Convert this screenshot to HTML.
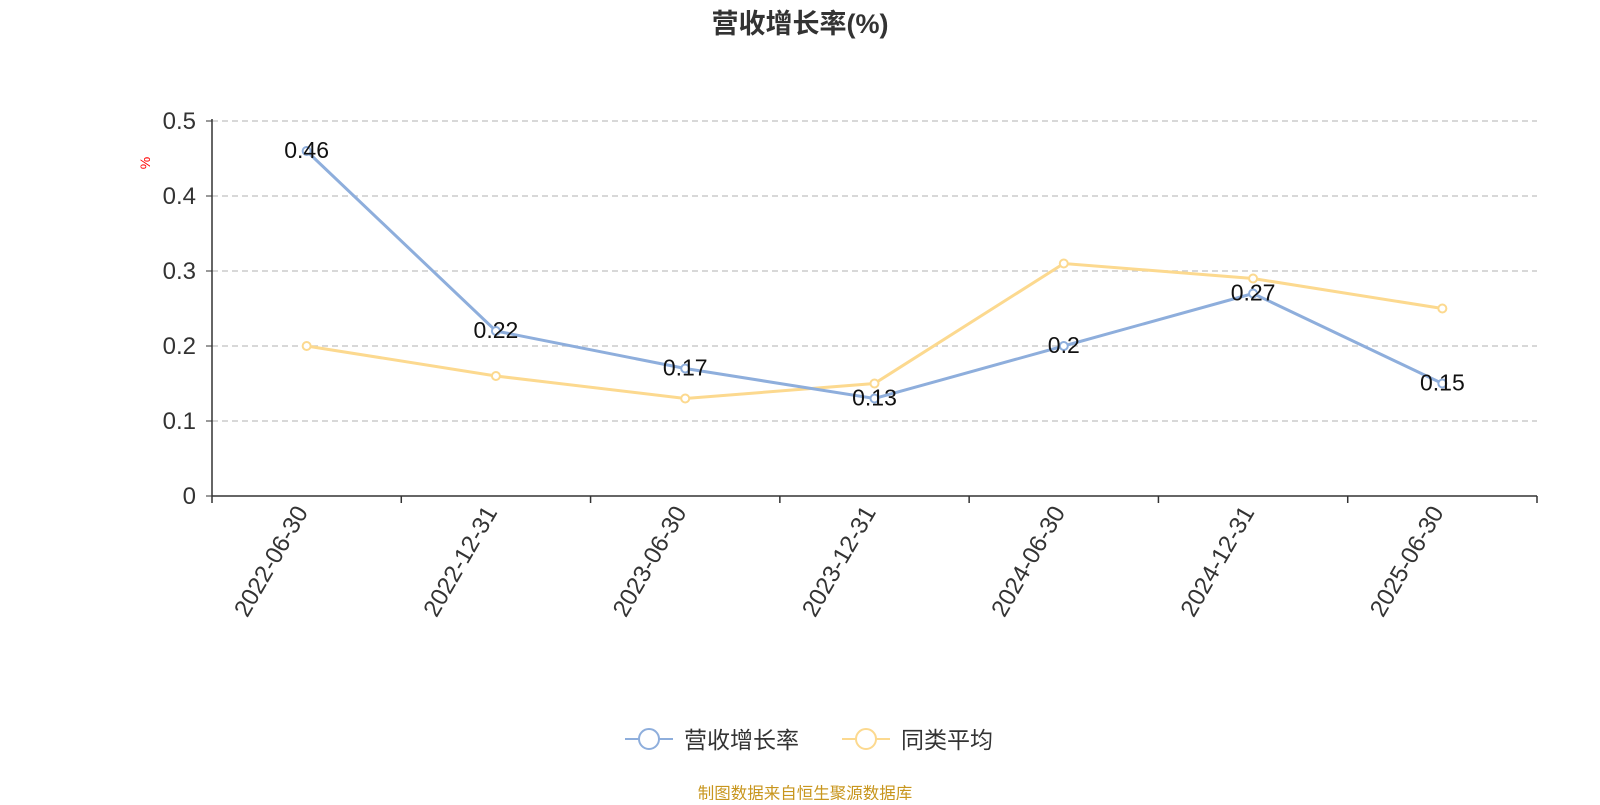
<!DOCTYPE html>
<html><head><meta charset="utf-8"><style>
body{margin:0;background:#fff;width:1600px;height:800px;overflow:hidden}
svg{font-family:"Liberation Sans","Noto Sans CJK SC",sans-serif}
</style></head><body>
<svg id="chart" width="1600" height="800">
<text x="800" y="33" text-anchor="middle" font-size="27" font-weight="bold" fill="#333">营收增长率(%)</text>
<text x="150" y="163" font-size="14" fill="red" transform="rotate(-90 150 163)" text-anchor="middle">%</text>
<g id="grid"></g><g id="axes"></g><g id="series"></g>
<g>
<g>
<line x1="625" y1="739" x2="673" y2="739" stroke="#8eaedc" stroke-width="2"/><circle cx="649" cy="739" r="10" fill="#fff" stroke="#8eaedc" stroke-width="2"/>
<text x="684" y="748" font-size="23" fill="#333">营收增长率</text></g>
<g>
<line x1="842" y1="739" x2="890" y2="739" stroke="#fcd98f" stroke-width="2"/><circle cx="866" cy="739" r="10" fill="#fff" stroke="#fcd98f" stroke-width="2"/>
<text x="901" y="748" font-size="23" fill="#333">同类平均</text></g>
</g>
<text x="805" y="799" text-anchor="middle" font-size="16.5" fill="#c8961e">制图数据来自恒生聚源数据库</text>
</svg>
<script>
const categories=["2022-06-30","2022-12-31","2023-06-30","2023-12-31","2024-06-30","2024-12-31","2025-06-30"];
const revenueGrowth=[0.46,0.22,0.17,0.13,0.2,0.27,0.15];
const peerAverage=[0.2,0.16,0.13,0.15,0.31,0.29,0.25];
const yTicks=[0,0.1,0.2,0.3,0.4,0.5];
const NS="http://www.w3.org/2000/svg";
const x0=212,x1=1537,y0=496,y1=121,yMax=0.5;
const bw=(x1-x0)/categories.length;
const xs=i=>x0+bw*(i+0.5);
const ys=v=>y0-(v/yMax)*(y0-y1);
function mk(t,a,p){const e=document.createElementNS(NS,t);for(const k in a)e.setAttribute(k,a[k]);p.appendChild(e);return e;}
const grid=document.getElementById('grid'),axes=document.getElementById('axes'),ser=document.getElementById('series');
yTicks.forEach(v=>{
 if(v>0){const g=mk('line',{x1:x0,x2:x1,y1:ys(v),y2:ys(v),stroke:'#ccc','stroke-dasharray':'6,4','stroke-width':1.5},grid);
 
 }
 const tk=mk('line',{x1:x0-6,x2:x0,y1:ys(v),y2:ys(v),stroke:'#333'},axes);
 
 
 const t=mk('text',{x:x0-16,y:ys(v)+8,'text-anchor':'end','font-size':24,fill:'#333'},axes);t.textContent=v;
 
 
});
const ya=mk('line',{x1:x0,x2:x0,y1:y1-2,y2:y0,stroke:'#333','stroke-width':1.5},axes);


const xa=mk('line',{x1:x0,x2:x1,y1:y0,y2:y0,stroke:'#333','stroke-width':1.5},axes);


for(let i=0;i<=categories.length;i++){const tk=mk('line',{x1:x0+bw*i,x2:x0+bw*i,y1:y0,y2:y0+7,stroke:'#333','stroke-width':1.5},axes);
 
 }
categories.forEach((c,i)=>{const x=xs(i)+2,y=y0+16;
 const t=mk('text',{x:x,y:y,'text-anchor':'end','font-size':24,fill:'#333',transform:`rotate(-60 ${x} ${y})`},axes);t.textContent=c;
 
 });
function series(data,color,name,labels){
 const p=mk('polyline',{points:data.map((v,i)=>xs(i)+','+ys(v)).join(' '),fill:'none',stroke:color,'stroke-width':3},ser);
 
 
 data.forEach((v,i)=>{const c=mk('circle',{cx:xs(i),cy:ys(v),r:4,fill:'#fff',stroke:color,'stroke-width':2},ser);
  
  
  if(labels){const t=mk('text',{x:xs(i),y:ys(v)+7,'text-anchor':'middle','font-size':23,fill:'#111'},ser);t.textContent=v;
   
   }});
}
series(peerAverage,'#fcd98f','peer-average',false);
series(revenueGrowth,'#8eaedc','revenue-growth',true);
</script>
</body></html>
